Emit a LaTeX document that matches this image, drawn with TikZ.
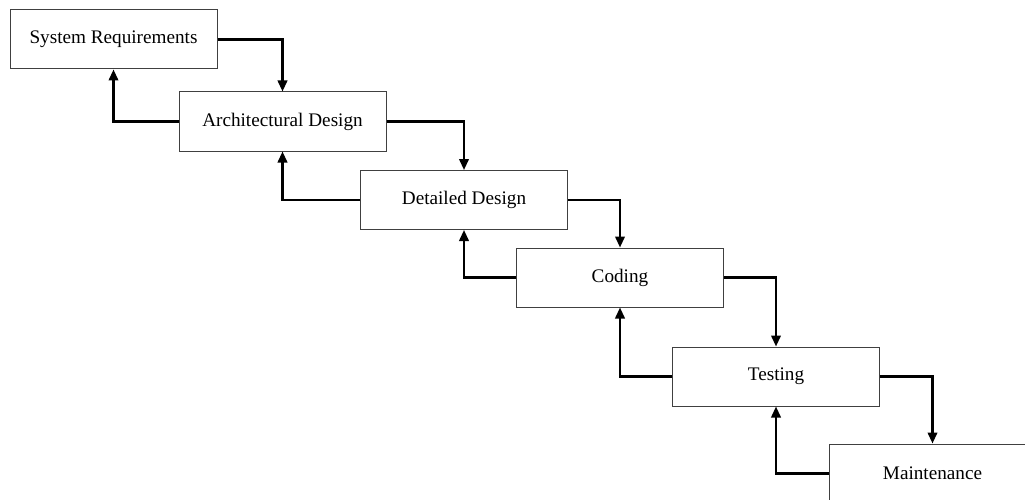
\documentclass[tikz,border=0pt]{standalone}
\usepackage{fontspec}
\setmainfont{Liberation Serif}
\usetikzlibrary{arrows.meta}
\begin{document}
\begin{tikzpicture}[x=1pt,y=-1pt,
  stage/.style={draw=black!75,line width=1pt,fill=white,rectangle,minimum width=207pt,minimum height=59pt,inner sep=0pt,font=\fontsize{19.2}{23}\selectfont},
  arr/.style={line width=2.2pt,-{Triangle[length=11pt,width=9.5pt]}}]
\clip (0,0) rectangle (1025,500);
\node[stage] (sr) at (113.5,39.5) {System Requirements};
\node[stage] (ad) at (282.5,121.5) {Architectural Design};
\node[stage] (dd) at (464,200) {Detailed Design};
\node[stage] (co) at (620,277.5) {Coding};
\node[stage] (te) at (776,376.5) {Testing};
\node[stage] (ma) at (932.5,473.5) {Maintenance};
\draw[arr] (sr.east) -| (ad.north);
\draw[arr] (ad.east) -| (dd.north);
\draw[arr] (dd.east) -| (co.north);
\draw[arr] (co.east) -| (te.north);
\draw[arr] (te.east) -| (ma.north);
\draw[arr] (ad.west) -| (sr.south);
\draw[arr] (dd.west) -| (ad.south);
\draw[arr] (co.west) -| (dd.south);
\draw[arr] (te.west) -| (co.south);
\draw[arr] (ma.west) -| (te.south);
\end{tikzpicture}
\end{document}
